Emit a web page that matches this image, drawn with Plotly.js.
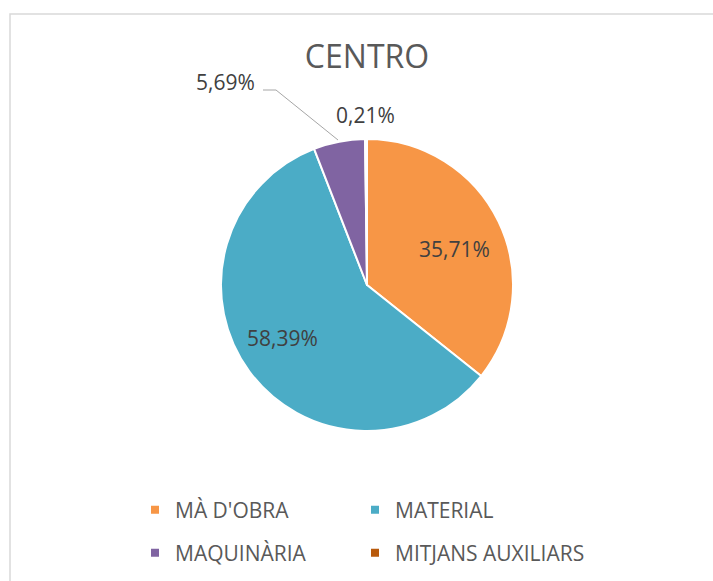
<!DOCTYPE html>
<html>
<head>
<meta charset="utf-8">
<script src="https://cdn.plot.ly/plotly-3.0.1.min.js"></script>
<style>html,body{margin:0;padding:0;background:#fff}#chart{width:713px;height:581px}</style>
</head>
<body>
<div id="chart"></div>
<script>
// Data
var categories = ["MÀ D'OBRA", "MATERIAL", "MAQUINÀRIA", "MITJANS AUXILIARS"];
var values = [35.71, 58.39, 5.69, 0.21];
var chartTitle = "CENTRO";

// Styles
var colors = ["#F79646", "#4BACC6", "#8064A2", "#B85A0C"];
var FONT = "'Open Sans', 'Liberation Sans', sans-serif";
var W = 713, H = 581;
function px(x) { return x / W; }
function py(y) { return 1 - y / H; }
function fmt(v) { return v.toFixed(2).replace('.', ',') + '%'; }

var pie = {
  type: 'pie',
  labels: categories,
  values: values,
  sort: false,
  direction: 'clockwise',
  rotation: 0,
  marker: { colors: colors, line: { color: '#FFFFFF', width: 2 } },
  textinfo: 'none',
  hoverinfo: 'label+percent',
  showlegend: false,
  domain: { x: [px(221), px(513)], y: [py(431), py(139)] }
};

// legend grid placement (pixels: text-left minus 40, row centre)
var legendPos = [[135, 510], [355, 510], [135, 553], [355, 553]];
var legendNames = ['legend', 'legend2', 'legend3', 'legend4'];

var traces = [pie];
categories.forEach(function (c, i) {
  traces.push({
    type: 'scatter', mode: 'markers',
    x: [null], y: [null],
    name: c,
    marker: { symbol: 'square', size: 8, color: colors[i] },
    legend: legendNames[i],
    hoverinfo: 'skip'
  });
});

// data-label placement (pixels)
var labelPos = [[454, 249], [282, 338], [225, 82], [365, 115]];
var annotations = values.map(function (v, i) {
  return { text: fmt(v), x: px(labelPos[i][0]), y: py(labelPos[i][1]), xref: 'paper', yref: 'paper',
    showarrow: false, xanchor: 'center', yanchor: 'middle',
    font: { family: FONT, size: 21, color: '#404040' } };
});

var layout = {
  width: W, height: H,
  margin: { l: 0, r: 0, t: 0, b: 0 },
  paper_bgcolor: '#FFFFFF', plot_bgcolor: '#FFFFFF',
  separators: ',.',
  title: {
    text: chartTitle,
    font: { family: FONT, size: 32, color: '#595959' },
    x: px(367), xanchor: 'center', xref: 'paper',
    y: py(57), yanchor: 'middle', yref: 'container'
  },
  xaxis: { visible: false },
  yaxis: { visible: false },
  annotations: annotations,
  shapes: [
    { type: 'path', xref: 'paper', yref: 'paper',
      path: 'M ' + px(10) + ',' + py(590) + ' L ' + px(10) + ',' + py(14) + ' L ' + px(720) + ',' + py(14),
      line: { color: '#D9D9D9', width: 1.5 } },
    { type: 'path', xref: 'paper', yref: 'paper',
      path: 'M ' + px(263) + ',' + py(90) + ' L ' + px(276) + ',' + py(90) + ' L ' + px(338) + ',' + py(140),
      line: { color: '#A6A6A6', width: 1 } }
  ]
};
legendNames.forEach(function (n, i) {
  layout[n] = {
    orientation: 'h', xanchor: 'left', yanchor: 'middle',
    x: px(legendPos[i][0]), y: py(legendPos[i][1]),
    font: { family: FONT, size: 21, color: '#595959' },
    bgcolor: 'rgba(0,0,0,0)', borderwidth: 0
  };
});

Plotly.newPlot('chart', traces, layout, { displayModeBar: false });
</script>
</body>
</html>
